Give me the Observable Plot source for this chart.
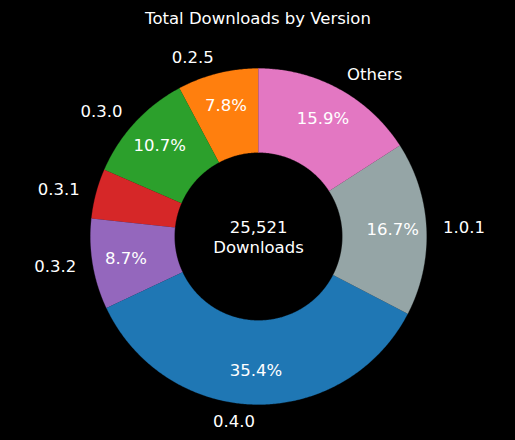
<!DOCTYPE html>
<html><head><meta charset="utf-8">
<script src="https://cdn.jsdelivr.net/npm/d3@7"></script>
<script src="https://cdn.jsdelivr.net/npm/@observablehq/plot@0.6"></script>
<style>html,body{margin:0;padding:0;background:#000;overflow:hidden;}</style>
</head><body><div id="chart"></div>
<script>
const versions = ["0.2.5","0.3.0","0.3.1","0.3.2","0.4.0","1.0.1","Others"];
const downloads = [1991,2731,1225,2220,9034,4262,4058];
const palette = ["#ff7f0e","#2ca02c","#d62728","#9467bd","#1f77b4","#95a5a6","#e377c2"];
const title = "Total Downloads by Version";
const centerWord = "Downloads";

const total = d3.sum(downloads);
const inner = 0.5, labelR = 1.1, pctR = 0.8;
let cum = 0;
const slices = versions.map((v, i) => {
  const a0 = Math.PI / 2 + 2 * Math.PI * cum / total;
  cum += downloads[i];
  const a1 = Math.PI / 2 + 2 * Math.PI * cum / total;
  const mid = (a0 + a1) / 2;
  const pct = 100 * downloads[i] / total;
  return {version: v, value: downloads[i], pct, a0, a1, mid,
    lx: labelR * Math.cos(mid), ly: labelR * Math.sin(mid),
    px: pctR * Math.cos(mid), py: pctR * Math.sin(mid),
    pctText: pct >= 5 ? pct.toFixed(1) + "%" : ""};
});
const pts = [];
for (const s of slices) {
  const n = Math.max(2, Math.ceil((s.a1 - s.a0) / (Math.PI / 360)));
  for (let k = 0; k <= n; k++) { const a = s.a0 + (s.a1 - s.a0) * k / n; pts.push({version: s.version, x: Math.cos(a), y: Math.sin(a)}); }
  for (let k = n; k >= 0; k--) { const a = s.a0 + (s.a1 - s.a0) * k / n; pts.push({version: s.version, x: inner * Math.cos(a), y: inner * Math.sin(a)}); }
}
const R = 168, cx = 258, cy = 236, W = 515, H = 440;
const fs = 16.5;

const chart = Plot.plot({
  width: W, height: H,
  margin: 0,
  style: {background: "#000", color: "#fff", fontFamily: "'DejaVu Sans', sans-serif", fontSize: fs + "px"},
  x: {domain: [-cx / R, (W - cx) / R], axis: null},
  y: {domain: [-(H - cy) / R, cy / R], axis: null},
  color: {type: "ordinal", domain: versions, range: palette},
  marks: [
    Plot.line(pts, {x: "x", y: "y", z: "version", fill: "version", stroke: "version", strokeWidth: 0.3}),
    Plot.text(slices.filter(d => d.lx < 0), {x: "lx", y: "ly", text: "version", textAnchor: "end", fill: "#fff", fontSize: fs}),
    Plot.text(slices.filter(d => d.lx >= 0), {x: "lx", y: "ly", text: "version", textAnchor: "start", fill: "#fff", fontSize: fs}),
    Plot.text(slices, {x: "px", y: "py", text: "pctText", fill: "#fff", fontSize: fs}),
    Plot.text([d3.format(",")(total) + "\n" + centerWord], {x: () => 0, y: () => 0, fill: "#fff", fontSize: fs, lineHeight: 1.2}),
    Plot.text([title], {frameAnchor: "top", lineAnchor: "middle", dy: 18, fill: "#fff", fontSize: fs})
  ]
});
document.getElementById("chart").appendChild(chart);
</script>
</body></html>
